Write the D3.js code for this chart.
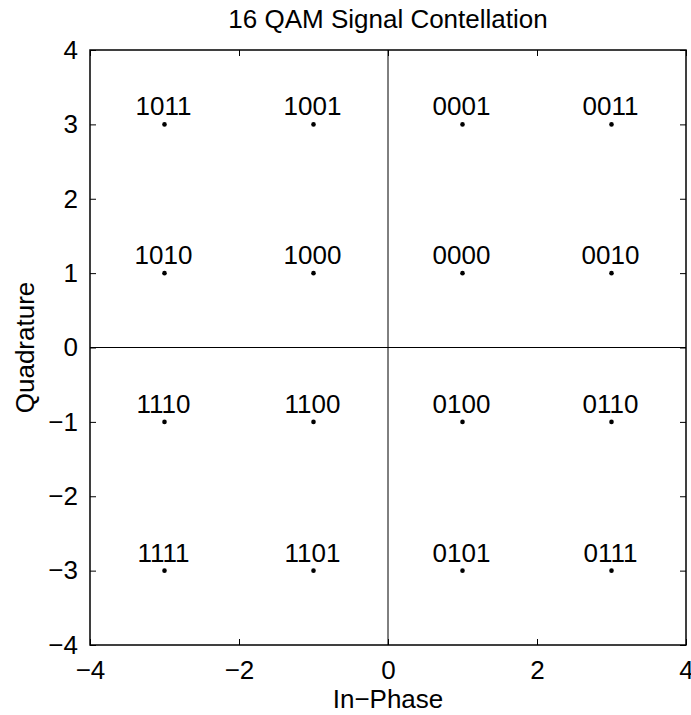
<!DOCTYPE html>
<html>
<head>
<meta charset="utf-8">
<script src="https://cdn.jsdelivr.net/npm/d3@7"></script>
<style>
  body { margin: 0; background: #fff; }
  svg text { font-family: "Liberation Sans", Arial, Helvetica, sans-serif; fill: #000; }
</style>
</head>
<body>
<script>
var w = 691;
var h = 715;

var margin = { top: 50, bottom: 70, left: 90, right: 5 };
var width = w - margin.left - margin.right;
var height = h - margin.top - margin.bottom;

// constellation points
var inPhase    = [-3, -1, 1, 3, -3, -1, 1, 3, -3, -1, 1, 3, -3, -1, 1, 3];
var quadrature = [ 3,  3, 3, 3,  1,  1, 1, 1, -1, -1, -1, -1, -3, -3, -3, -3];
var bits = ["1011", "1001", "0001", "0011",
            "1010", "1000", "0000", "0010",
            "1110", "1100", "0100", "0110",
            "1111", "1101", "0101", "0111"];

var xTicks = [-4, -2, 0, 2, 4];
var yTicks = [-4, -3, -2, -1, 0, 1, 2, 3, 4];

var svg = d3.select("body")
    .append("svg")
    .attr("width", w)
    .attr("height", h);

var g = svg.append("g")
    .attr("transform", "translate(" + margin.left + "," + margin.top + ")");

var x = d3.scaleLinear().domain([-4, 4]).range([0, width]);
var y = d3.scaleLinear().domain([-4, 4]).range([height, 0]);

var fs = 26;
var tickLen = 6;

// zero lines
g.append("line")
    .attr("x1", x(0)).attr("x2", x(0))
    .attr("y1", 0).attr("y2", height)
    .attr("stroke", "#000").attr("stroke-width", 1);
g.append("line")
    .attr("x1", 0).attr("x2", width)
    .attr("y1", y(0)).attr("y2", y(0))
    .attr("stroke", "#000").attr("stroke-width", 1);

// axes, ticks pointing inward on all four sides
function styleAxis(sel) {
    sel.select(".domain").remove();
    sel.selectAll("line").attr("stroke", "#000").attr("stroke-width", 1);
    sel.selectAll("text").style("font-size", fs + "px");
}

g.append("g")
    .attr("transform", "translate(0," + height + ")")
    .call(d3.axisBottom(x).tickValues(xTicks).tickSizeInner(-tickLen).tickSizeOuter(0).tickPadding(16))
    .call(styleAxis);

g.append("g")
    .call(d3.axisTop(x).tickValues(xTicks).tickSizeInner(-tickLen).tickSizeOuter(0).tickFormat(""))
    .call(styleAxis);

g.append("g")
    .call(d3.axisLeft(y).tickValues(yTicks).tickSizeInner(-tickLen).tickSizeOuter(0).tickPadding(12))
    .call(styleAxis);

g.append("g")
    .attr("transform", "translate(" + width + ",0)")
    .call(d3.axisRight(y).tickValues(yTicks).tickSizeInner(-tickLen).tickSizeOuter(0).tickFormat(""))
    .call(styleAxis);

// box
g.append("rect")
    .attr("x", 0).attr("y", 0)
    .attr("width", width).attr("height", height)
    .attr("fill", "none")
    .attr("stroke", "#000")
    .attr("stroke-width", 1.5);

// points
g.selectAll("circle.pt")
    .data(d3.range(inPhase.length))
    .enter()
    .append("circle")
    .attr("class", "pt")
    .attr("cx", function(i){ return x(inPhase[i]); })
    .attr("cy", function(i){ return y(quadrature[i]); })
    .attr("r", 2.3)
    .attr("fill", "#000");

g.selectAll("text.lbl")
    .data(d3.range(inPhase.length))
    .enter()
    .append("text")
    .attr("class", "lbl")
    .attr("x", function(i){ return x(inPhase[i]) - 1; })
    .attr("y", function(i){ return y(quadrature[i]) - 9; })
    .attr("text-anchor", "middle")
    .style("font-size", fs + "px")
    .text(function(i){ return bits[i]; });

// title and axis labels
svg.append("text")
    .attr("x", margin.left + width / 2)
    .attr("y", 28)
    .attr("text-anchor", "middle")
    .style("font-size", fs + "px")
    .text("16 QAM Signal Contellation");

svg.append("text")
    .attr("x", margin.left + width / 2)
    .attr("y", 708)
    .attr("text-anchor", "middle")
    .style("font-size", fs + "px")
    .text("In\u2212Phase");

svg.append("text")
    .attr("transform", "translate(34," + (margin.top + height / 2) + ") rotate(-90)")
    .attr("text-anchor", "middle")
    .style("font-size", fs + "px")
    .text("Quadrature");
</script>
</body>
</html>
